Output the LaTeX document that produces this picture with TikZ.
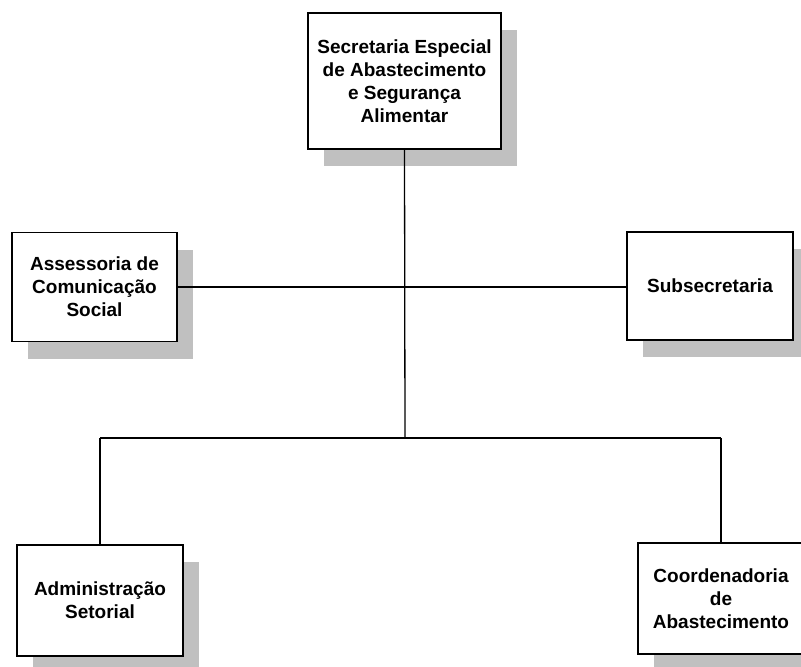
\documentclass[tikz,border=0pt]{standalone}
\usepackage{fontspec}
\setmainfont{Liberation Sans}
\usetikzlibrary{shadows}
\definecolor{shadowgray}{RGB}{192,192,192}
\begin{document}
\begin{tikzpicture}[x=1pt,y=-1pt,
  orgbox/.style={draw=black, line width=1.8pt, fill=white, align=center,
    inner sep=2pt,
    font=\fontsize{19}{23}\selectfont\bfseries,
    drop shadow={shadow xshift=16pt, shadow yshift=-17pt, fill=shadowgray, opacity=1}},
  link/.style={draw=black, line width=1.3pt}]
\useasboundingbox (0,0) rectangle (801,667);
\clip (0,0) rectangle (801,667);
\node[orgbox, minimum width=193pt, minimum height=136pt] (top) at (404.5,81)
  {Secretaria Especial\\de Abastecimento\\e Segurança\\Alimentar};
\node[orgbox, minimum width=165pt, minimum height=109pt] (left) at (94.5,287)
  {Assessoria de\\Comunicação\\Social};
\node[orgbox, minimum width=166pt, minimum height=108pt] (right) at (710,286)
  {Subsecretaria};
\node[orgbox, minimum width=166pt, minimum height=111pt] (bl) at (100,600.5)
  {Administração\\Setorial};
\node[orgbox, minimum width=166pt, minimum height=111pt] (br) at (721,598.5)
  {Coordenadoria\\de\\Abastecimento};
\coordinate (bus) at (405,438);
\coordinate (busL) at (100,438);
\coordinate (busR) at (721,438);
\draw[link] (top.south) -- (bus);
\draw[link] (left.east) -- (left.east -| right.west);
\draw[link] (busL) -- (busR);
\draw[link] (busL) -- (bl.north);
\draw[link] (busR) -- (br.north);
\end{tikzpicture}
\end{document}
